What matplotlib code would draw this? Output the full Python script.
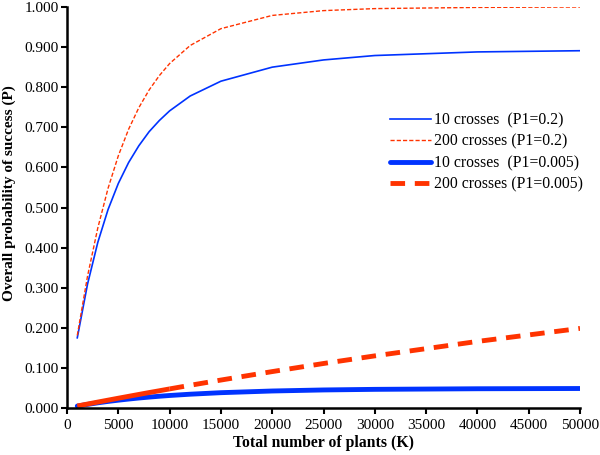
import matplotlib
matplotlib.use("Agg")
import matplotlib.pyplot as plt
from matplotlib.ticker import FormatStrFormatter, MultipleLocator

plt.rcParams['font.family'] = ['Liberation Serif', 'DejaVu Serif']

# total number of plants (K)
plants = [1000, 2000, 3000, 4000, 5000, 6000, 7000, 8000, 9000, 10000,
          12000, 15000, 20000, 25000, 30000, 40000, 50000]

# overall probability of success (P)
p10_high = [0.175, 0.309, 0.413, 0.495, 0.560, 0.612, 0.654, 0.689, 0.717, 0.741,
            0.778, 0.815, 0.850, 0.868, 0.879, 0.888, 0.891]
p200_high = [0.181, 0.329, 0.449, 0.548, 0.629, 0.695, 0.749, 0.793, 0.829, 0.859,
             0.904, 0.946, 0.979, 0.991, 0.996, 0.999, 1.000]
p10_low = [0.0048, 0.0090, 0.0129, 0.0164, 0.0195, 0.0223, 0.0249, 0.0272, 0.0293, 0.0312,
           0.0344, 0.0382, 0.0424, 0.0450, 0.0465, 0.0480, 0.0486]
p200_low = [0.0050, 0.0099, 0.0148, 0.0196, 0.0244, 0.0291, 0.0338, 0.0385, 0.0430, 0.0476,
            0.0566, 0.0697, 0.0908, 0.1110, 0.1300, 0.1660, 0.1985]

blue = '#0033ff'
red = '#ff3300'

fig = plt.figure(figsize=(6, 4.55), dpi=100)
ax = fig.add_axes([0.1117, 0.1033, 0.855, 0.8813])

ax.plot(plants, p10_high, color=blue, lw=1.2, label='10 crosses  (P1=0.2)')
ax.plot(plants, p200_high, color=red, lw=1.0, ls=(0, (3, 1.5)), label='200 crosses (P1=0.2)')
ax.plot(plants, p10_low, color=blue, lw=3.5, solid_capstyle='round', label='10 crosses  (P1=0.005)')
# short segments below 10000 show up solid in the original
ax.plot(plants[:10], p200_low[:10], color=red, lw=3.5, solid_capstyle='butt')
ax.plot(plants[9:], p200_low[9:], color=red, lw=3.5, ls=(0, (3, 2)))
ax.plot([], [], color=red, lw=3.5, ls=(0, (3, 2)), label='200 crosses (P1=0.005)')

ax.set_xlim(0, 50000)
ax.set_ylim(0, 1.0)
ax.xaxis.set_major_locator(MultipleLocator(5000))
ax.yaxis.set_major_locator(MultipleLocator(0.1))
ax.yaxis.set_major_formatter(FormatStrFormatter('%.3f'))

for s in ['top', 'right']:
    ax.spines[s].set_visible(False)
for s in ['left', 'bottom']:
    ax.spines[s].set_linewidth(1.8)
ax.tick_params(axis='both', direction='out', length=4, width=1.5, labelsize=11, pad=2)
ax.tick_params(axis='x', pad=4)

ax.set_xlabel('Total number of plants (K)', fontsize=11.3, fontweight='bold')
ax.xaxis.set_label_coords(0.5, -0.068)
ax.set_ylabel('Overall probability of success (P)', fontsize=11, fontweight='bold')
ax.yaxis.set_label_coords(-0.1, 0.535)

ax.legend(loc='upper left', bbox_to_anchor=(0.615, 0.757), frameon=False, fontsize=11.3,
          handlelength=2.6, handletextpad=0.2, labelspacing=0.35, borderpad=0)

plt.savefig('out.png', dpi=100)
